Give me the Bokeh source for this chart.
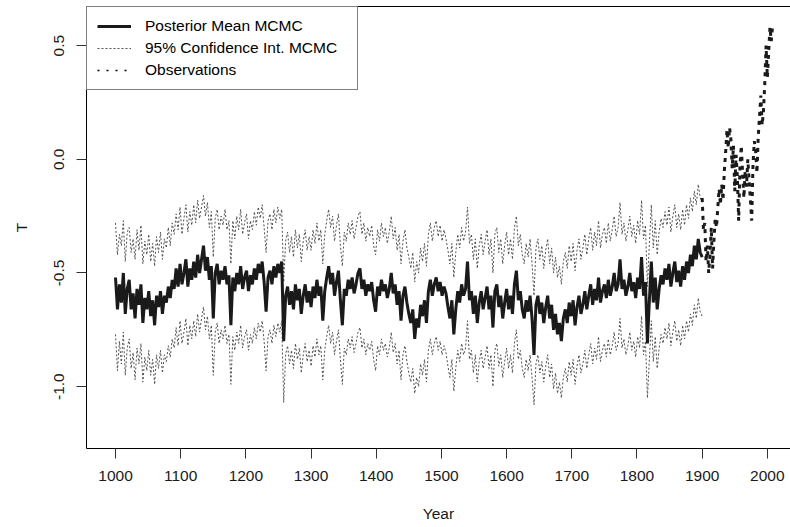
from bokeh.plotting import figure
from bokeh.models import (Range1d, FixedTicker, NumeralTickFormatter, Legend, LegendItem,
                          ColumnDataSource, LinearAxis)
from bokeh.embed import file_html
from bokeh.resources import INLINE

# ---- data ----
mean_years = list(range(1000, 1901, 3))

posterior_mean = [
    -0.52, -0.66, -0.55, -0.63, -0.50, -0.68, -0.57, -0.53, -0.66, -0.59,
    -0.70, -0.57, -0.64, -0.55, -0.72, -0.61, -0.66, -0.58, -0.69, -0.62,
    -0.73, -0.60, -0.65, -0.58, -0.68, -0.60, -0.63, -0.56, -0.61, -0.53,
    -0.57, -0.48, -0.56, -0.46, -0.55, -0.50, -0.44, -0.56, -0.48, -0.53,
    -0.45, -0.52, -0.42, -0.50, -0.44, -0.38, -0.49, -0.43, -0.53, -0.47,
    -0.70, -0.50, -0.46, -0.55, -0.49, -0.53, -0.47, -0.55, -0.51, -0.73,
    -0.52, -0.58, -0.50, -0.55, -0.47, -0.57, -0.52, -0.49, -0.58, -0.51,
    -0.55, -0.48, -0.53, -0.46, -0.50, -0.45, -0.54, -0.67, -0.52, -0.49,
    -0.55, -0.47, -0.52, -0.46, -0.50, -0.45, -0.80, -0.60, -0.56, -0.64,
    -0.58, -0.66, -0.55, -0.62, -0.57, -0.68, -0.60, -0.55, -0.63, -0.58,
    -0.65, -0.56, -0.61, -0.53, -0.60, -0.56, -0.71, -0.58, -0.52, -0.47,
    -0.55, -0.50, -0.60, -0.54, -0.49, -0.62, -0.73, -0.57, -0.60, -0.53,
    -0.57, -0.52, -0.59, -0.55, -0.50, -0.48, -0.57, -0.53, -0.60, -0.55,
    -0.58, -0.54, -0.62, -0.67, -0.56, -0.60, -0.53, -0.58, -0.55, -0.61,
    -0.57, -0.50, -0.59, -0.55, -0.64, -0.58, -0.71, -0.60, -0.56, -0.63,
    -0.68, -0.72, -0.66, -0.79, -0.70, -0.74, -0.64, -0.69, -0.62, -0.72,
    -0.58, -0.53, -0.60, -0.55, -0.52, -0.58, -0.54, -0.60, -0.56, -0.59,
    -0.65, -0.70, -0.62, -0.77, -0.66, -0.58, -0.63, -0.55, -0.60, -0.57,
    -0.45, -0.62, -0.58, -0.68, -0.60, -0.72, -0.63, -0.58, -0.66, -0.61,
    -0.56, -0.66, -0.60, -0.74, -0.58, -0.55, -0.65, -0.60, -0.70, -0.63,
    -0.57, -0.66, -0.60, -0.68, -0.55, -0.49, -0.62, -0.58, -0.66, -0.70,
    -0.62, -0.67, -0.60, -0.70, -0.86, -0.64, -0.60, -0.68, -0.63, -0.72,
    -0.65, -0.60, -0.70, -0.64, -0.75, -0.68, -0.77, -0.72, -0.80, -0.70,
    -0.66, -0.72, -0.63, -0.69, -0.62, -0.73, -0.65, -0.60, -0.68, -0.64,
    -0.58, -0.66, -0.60, -0.55, -0.64, -0.57, -0.62, -0.52, -0.63, -0.58,
    -0.55, -0.61, -0.53, -0.60, -0.56, -0.50, -0.58, -0.55, -0.44, -0.57,
    -0.53, -0.60, -0.56, -0.50, -0.58, -0.54, -0.61, -0.52, -0.57, -0.43,
    -0.60, -0.54, -0.81, -0.62, -0.45, -0.63, -0.52, -0.66, -0.57, -0.51,
    -0.55, -0.48, -0.53, -0.46, -0.56, -0.50, -0.45, -0.54, -0.49, -0.56,
    -0.47, -0.53, -0.45, -0.50, -0.42, -0.47, -0.38, -0.44, -0.35, -0.41,
    -0.43,
]

ci_upper = [
    -0.28, -0.42, -0.33, -0.38, -0.27, -0.45, -0.32, -0.30, -0.41, -0.35,
    -0.44, -0.31, -0.40, -0.29, -0.46, -0.36, -0.42, -0.33, -0.45, -0.37,
    -0.47, -0.34, -0.41, -0.32, -0.44, -0.35, -0.39, -0.30, -0.38, -0.28,
    -0.33, -0.24, -0.31, -0.21, -0.33, -0.26, -0.20, -0.32, -0.23, -0.29,
    -0.20, -0.28, -0.18, -0.26, -0.21, -0.16, -0.25, -0.19, -0.30, -0.23,
    -0.43, -0.26, -0.22, -0.31, -0.25, -0.29, -0.22, -0.31, -0.27, -0.46,
    -0.27, -0.35, -0.25, -0.31, -0.22, -0.33, -0.28, -0.24, -0.35, -0.27,
    -0.31, -0.23, -0.29, -0.21, -0.26, -0.20, -0.30, -0.41, -0.27, -0.24,
    -0.31, -0.22, -0.28, -0.21, -0.26, -0.22, -0.54, -0.36, -0.32, -0.41,
    -0.34, -0.43, -0.31, -0.39, -0.33, -0.45, -0.36, -0.31, -0.40, -0.34,
    -0.40, -0.31, -0.37, -0.28, -0.36, -0.31, -0.46, -0.33, -0.27, -0.22,
    -0.30, -0.25, -0.36, -0.29, -0.24, -0.38, -0.47, -0.32, -0.36, -0.28,
    -0.33, -0.27, -0.35, -0.30, -0.25, -0.23, -0.33, -0.28, -0.36, -0.30,
    -0.34, -0.29, -0.38, -0.42, -0.31, -0.36, -0.28, -0.34, -0.30, -0.37,
    -0.32, -0.25, -0.35, -0.30, -0.40, -0.33, -0.46, -0.36, -0.31, -0.39,
    -0.43, -0.48, -0.41, -0.54, -0.45, -0.50, -0.39, -0.45, -0.37, -0.47,
    -0.33, -0.28, -0.36, -0.30, -0.27, -0.34, -0.29, -0.36, -0.31, -0.35,
    -0.40, -0.46, -0.37, -0.52, -0.41, -0.33, -0.39, -0.30, -0.36, -0.32,
    -0.21, -0.37, -0.33, -0.44, -0.35, -0.48, -0.38, -0.33, -0.42, -0.36,
    -0.31, -0.42, -0.35, -0.50, -0.33, -0.30, -0.41, -0.35, -0.46, -0.38,
    -0.32, -0.42, -0.35, -0.44, -0.30, -0.25, -0.38, -0.33, -0.42, -0.46,
    -0.37, -0.43, -0.35, -0.46, -0.60, -0.39, -0.35, -0.44, -0.38, -0.48,
    -0.40, -0.35, -0.46, -0.39, -0.50, -0.43, -0.52, -0.47, -0.55, -0.45,
    -0.41, -0.48, -0.38, -0.45, -0.37, -0.49, -0.40, -0.35, -0.44, -0.39,
    -0.33, -0.42, -0.35, -0.30, -0.40, -0.32, -0.38, -0.27, -0.39, -0.33,
    -0.30, -0.37, -0.28, -0.36, -0.31, -0.25, -0.34, -0.30, -0.19, -0.33,
    -0.28, -0.36, -0.31, -0.25, -0.34, -0.29, -0.37, -0.27, -0.33, -0.18,
    -0.35, -0.29, -0.56, -0.37, -0.20, -0.39, -0.27, -0.42, -0.32, -0.26,
    -0.30, -0.23, -0.29, -0.21, -0.32, -0.25, -0.20, -0.30, -0.24, -0.31,
    -0.22, -0.29, -0.20, -0.26, -0.17, -0.23, -0.14, -0.20, -0.11, -0.17,
    -0.19,
]

ci_lower = [
    -0.77, -0.93, -0.80, -0.90, -0.76, -0.95, -0.83, -0.79, -0.92, -0.85,
    -0.97, -0.83, -0.90, -0.81, -0.98, -0.87, -0.93, -0.84, -0.95, -0.88,
    -0.99, -0.86, -0.92, -0.84, -0.94, -0.86, -0.89, -0.82, -0.87, -0.79,
    -0.83, -0.74, -0.82, -0.71, -0.81, -0.76, -0.70, -0.82, -0.73, -0.79,
    -0.71, -0.78, -0.68, -0.76, -0.70, -0.65, -0.75, -0.69, -0.79, -0.73,
    -0.95, -0.76, -0.72, -0.81, -0.75, -0.79, -0.73, -0.81, -0.77, -0.99,
    -0.78, -0.84, -0.76, -0.81, -0.73, -0.83, -0.78, -0.75, -0.84, -0.77,
    -0.81, -0.74, -0.79, -0.72, -0.76, -0.71, -0.80, -0.93, -0.78, -0.75,
    -0.81, -0.73, -0.78, -0.72, -0.76, -0.71, -1.07, -0.86, -0.82, -0.90,
    -0.84, -0.92, -0.81, -0.88, -0.83, -0.94, -0.86, -0.81, -0.89, -0.84,
    -0.91, -0.82, -0.87, -0.79, -0.86, -0.82, -0.97, -0.84, -0.78, -0.73,
    -0.81, -0.76, -0.86, -0.80, -0.75, -0.88, -0.99, -0.83, -0.86, -0.79,
    -0.83, -0.78, -0.85, -0.81, -0.76, -0.74, -0.83, -0.79, -0.86, -0.81,
    -0.84, -0.80, -0.88, -0.93, -0.82, -0.86, -0.79, -0.84, -0.81, -0.87,
    -0.83, -0.76, -0.85, -0.81, -0.90, -0.84, -0.97, -0.86, -0.82, -0.89,
    -0.94, -0.98, -0.92, -1.03, -0.96, -1.00, -0.90, -0.95, -0.88, -0.98,
    -0.84, -0.79, -0.86, -0.81, -0.78, -0.84, -0.80, -0.86, -0.82, -0.85,
    -0.91, -0.96, -0.88, -1.02, -0.92, -0.84, -0.89, -0.81, -0.86, -0.83,
    -0.71, -0.88, -0.84, -0.94, -0.86, -0.98, -0.89, -0.84, -0.92, -0.87,
    -0.82, -0.92, -0.86, -1.00, -0.84, -0.81, -0.91, -0.86, -0.96, -0.89,
    -0.83, -0.92, -0.86, -0.94, -0.81, -0.75, -0.88, -0.84, -0.92, -0.96,
    -0.88, -0.93, -0.86, -0.96, -1.08, -0.90, -0.86, -0.94, -0.89, -0.98,
    -0.91, -0.86, -0.96, -0.90, -1.01, -0.94, -1.03, -0.98, -1.05, -0.96,
    -0.92, -0.98, -0.89, -0.95, -0.88, -0.99, -0.91, -0.86, -0.94, -0.90,
    -0.84, -0.92, -0.86, -0.81, -0.90, -0.83, -0.88, -0.78, -0.89, -0.84,
    -0.81, -0.87, -0.79, -0.86, -0.82, -0.76, -0.84, -0.81, -0.70, -0.83,
    -0.79, -0.86, -0.82, -0.76, -0.84, -0.80, -0.87, -0.78, -0.83, -0.69,
    -0.86, -0.80, -1.05, -0.88, -0.71, -0.89, -0.78, -0.92, -0.83, -0.77,
    -0.81, -0.74, -0.79, -0.72, -0.82, -0.76, -0.71, -0.80, -0.75, -0.82,
    -0.73, -0.79, -0.71, -0.76, -0.68, -0.73, -0.64, -0.70, -0.61, -0.67,
    -0.69,
]

obs_years = list(range(1900, 2009, 2))
observations = [
    -0.17, -0.31, -0.28, -0.45, -0.38, -0.50, -0.42, -0.30, -0.48, -0.36,
    -0.26, -0.30, -0.21, -0.13, -0.20, -0.11, -0.18, -0.05, 0.03, 0.13,
    0.05, 0.14, 0.09, -0.04, 0.06, -0.14, 0.02, -0.08, -0.27, -0.03,
    0.06, -0.06, -0.17, -0.05, -0.12, 0.00, -0.09, -0.18, -0.27, -0.02,
    0.08, 0.04, -0.06, 0.10, 0.19, 0.28, 0.15, 0.21, 0.33, 0.50,
    0.36, 0.47, 0.58, 0.52, 0.59,
]

x_ticks = [1000, 1100, 1200, 1300, 1400, 1500, 1600, 1700, 1800, 1900, 2000]
y_ticks = [-1.0, -0.5, 0.0, 0.5]
legend_labels = ["Posterior Mean MCMC", "95% Confidence Int. MCMC", "Observations"]

FONT = "Liberation Sans"
FS = "15.5px"

p = figure(width=790, height=527, output_backend="svg", toolbar_location=None,
           x_range=Range1d(955.5, 2035.5), y_range=Range1d(-1.272, 0.672),
           min_border_left=86, min_border_right=0, min_border_top=6, min_border_bottom=79)

p.grid.visible = False
p.outline_line_color = None
p.background_fill_color = "white"
p.border_fill_color = "white"

xa = p.below[0]
ya = p.left[0]

# top edge of the box (the right edge is cut off in the reference)
top_axis = LinearAxis(ticker=FixedTicker(ticks=[]), axis_line_color="black",
                      major_tick_line_color=None, minor_tick_line_color=None,
                      major_label_text_font_size="0px")
p.add_layout(top_axis, "above")

src = ColumnDataSource(dict(year=mean_years, mean=posterior_mean, up=ci_upper, lo=ci_lower))
obs_src = ColumnDataSource(dict(year=obs_years, t=observations))
key_src = ColumnDataSource(dict(year=obs_years[:1], t=observations[:1]))

r_up = p.line("year", "up", source=src, line_color="#505050", line_width=1, line_dash="2 2")
r_lo = p.line("year", "lo", source=src, line_color="#505050", line_width=1, line_dash="2 2")
r_mean = p.line("year", "mean", source=src, line_color="#1a1a1a", line_width=3)
r_obs = p.line("year", "t", source=obs_src, line_color="#1a1a1a", line_width=3, line_dash="4 5")
# single-point line: draws nothing in the plot, only provides the dotted legend key
r_obs_key = p.line("year", "t", source=key_src, line_color="black", line_width=1.5, line_dash="2 7")

legend = Legend(items=[
    LegendItem(label=legend_labels[0], renderers=[r_mean]),
    LegendItem(label=legend_labels[1], renderers=[r_up]),
    LegendItem(label=legend_labels[2], renderers=[r_obs_key]),
], location="top_left", margin=0, padding=10, spacing=4,
    glyph_width=34, glyph_height=18, label_standoff=14, label_width=202,
    label_text_font=FONT, label_text_font_size=FS, label_text_color="black",
    border_line_color="black", border_line_width=1,
    background_fill_color="white", background_fill_alpha=1.0)
p.add_layout(legend)

for ax in (xa, ya):
    ax.axis_line_color = "black"
    ax.major_tick_line_color = "#333333"
    ax.major_tick_out = 10
    ax.major_tick_in = 0
    ax.minor_tick_line_color = None
    ax.major_label_text_font = FONT
    ax.major_label_text_font_size = FS
    ax.major_label_text_color = "#1a1a1a"
    ax.major_label_standoff = 12
    ax.axis_label_text_font = FONT
    ax.axis_label_text_font_size = FS
    ax.axis_label_text_font_style = "normal"
    ax.axis_label_text_color = "#1a1a1a"

xa.ticker = FixedTicker(ticks=x_ticks)
xa.formatter = NumeralTickFormatter(format="0")
xa.axis_label = "Year"
xa.axis_label_standoff = 21

ya.ticker = FixedTicker(ticks=y_ticks)
ya.formatter = NumeralTickFormatter(format="0.0")
ya.major_label_orientation = "vertical"
ya.axis_label = "T"
ya.axis_label_standoff = 22

open("out.html", "w").write(file_html(p, INLINE))
